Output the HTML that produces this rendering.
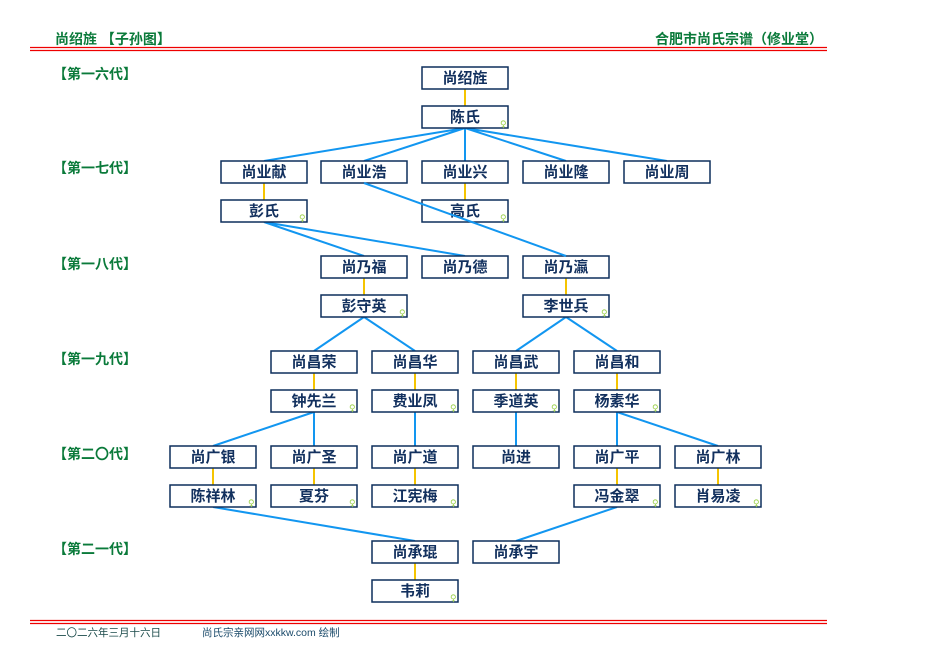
<!DOCTYPE html>
<html><head><meta charset="utf-8"><style>
body{margin:0;background:#fff}
svg{display:block}
.b{fill:#fff;stroke:#0d2f5c;stroke-width:1.5}
.t{font-family:"Liberation Sans","Noto Sans CJK SC",sans-serif;font-weight:bold;font-size:15px;fill:#12305e;text-anchor:middle}
.g{font-family:"Liberation Sans","Noto Sans CJK SC",sans-serif;font-weight:bold;font-size:14px;fill:#0a7a3a}
.f{font-family:"DejaVu Sans",sans-serif;font-size:9px;fill:#9bd04a}
.bl{stroke:#1296f0;stroke-width:2;fill:none}
.yl{stroke:#f5c400;stroke-width:2}
</style></head><body>
<svg width="926" height="670" viewBox="0 0 926 670">
<text class="g" x="55" y="44" font-size="16">尚绍旌 【子孙图】</text>
<text class="g" x="823" y="44" font-size="16" text-anchor="end">合肥市尚氏宗谱（修业堂）</text>
<line x1="30" y1="47.5" x2="827" y2="47.5" stroke="#e00" stroke-width="1.2"/>
<line x1="30" y1="50.5" x2="827" y2="50.5" stroke="#e00" stroke-width="1.2"/>
<line x1="30" y1="620.5" x2="827" y2="620.5" stroke="#e00" stroke-width="1.2"/>
<line x1="30" y1="623.5" x2="827" y2="623.5" stroke="#e00" stroke-width="1.2"/>
<text x="56" y="636" font-family="Liberation Sans,Noto Sans CJK SC,sans-serif" font-size="10.5" fill="#1a4a4a">二〇二六年三月十六日</text>
<text x="202" y="636" font-family="Liberation Sans,Noto Sans CJK SC,sans-serif" font-size="10.5" fill="#1a4a6a">尚氏宗亲网网xxkkw.com 绘制</text>
<text class="g" x="53" y="79">【第一六代】</text>
<text class="g" x="53" y="173">【第一七代】</text>
<text class="g" x="53" y="269">【第一八代】</text>
<text class="g" x="53" y="364">【第一九代】</text>
<text class="g" x="53" y="459">【第二〇代】</text>
<text class="g" x="53" y="554">【第二一代】</text>
<g class="bl">
<path d="M465 128 L264 161 M465 128 L364 161 M465 128 L465 161 M465 128 L566 161 M465 128 L667 161"/>
<path d="M264 222 L364 256 M264 222 L465 256"/>
<path d="M364 317 L314 351 M364 317 L415 351"/>
<path d="M566 317 L516 351 M566 317 L617 351"/>
<path d="M314 412 L213 446 M314 412 L314 446"/>
<path d="M415 412 L415 446"/>
<path d="M516 412 L516 446"/>
<path d="M617 412 L617 446 M617 412 L718 446"/>
<path d="M213 507 L415 541"/>
<path d="M617 507 L516 541"/>
</g>
<g class="yl">
<line x1="465" y1="89" x2="465" y2="106"/>
<line x1="264" y1="183" x2="264" y2="200"/>
<line x1="465" y1="183" x2="465" y2="200"/>
<line x1="364" y1="278" x2="364" y2="295"/>
<line x1="566" y1="278" x2="566" y2="295"/>
<line x1="314" y1="373" x2="314" y2="390"/>
<line x1="415" y1="373" x2="415" y2="390"/>
<line x1="516" y1="373" x2="516" y2="390"/>
<line x1="617" y1="373" x2="617" y2="390"/>
<line x1="213" y1="468" x2="213" y2="485"/>
<line x1="314" y1="468" x2="314" y2="485"/>
<line x1="415" y1="468" x2="415" y2="485"/>
<line x1="617" y1="468" x2="617" y2="485"/>
<line x1="718" y1="468" x2="718" y2="485"/>
<line x1="415" y1="563" x2="415" y2="580"/>
</g>
<g>
<rect class="b" x="422" y="67" width="86" height="22"/><text class="t" x="465" y="83">尚绍旌</text>
<rect class="b" x="422" y="106" width="86" height="22"/><text class="t" x="465" y="122">陈氏</text><text class="f" x="500" y="127">♀</text>
<rect class="b" x="221" y="161" width="86" height="22"/><text class="t" x="264" y="177">尚业献</text>
<rect class="b" x="321" y="161" width="86" height="22"/><text class="t" x="364" y="177">尚业浩</text>
<rect class="b" x="422" y="161" width="86" height="22"/><text class="t" x="465" y="177">尚业兴</text>
<rect class="b" x="523" y="161" width="86" height="22"/><text class="t" x="566" y="177">尚业隆</text>
<rect class="b" x="624" y="161" width="86" height="22"/><text class="t" x="667" y="177">尚业周</text>
<rect class="b" x="221" y="200" width="86" height="22"/><text class="t" x="264" y="216">彭氏</text><text class="f" x="299" y="221">♀</text>
<rect class="b" x="422" y="200" width="86" height="22"/><text class="t" x="465" y="216">高氏</text><text class="f" x="500" y="221">♀</text>
<rect class="b" x="321" y="256" width="86" height="22"/><text class="t" x="364" y="272">尚乃福</text>
<rect class="b" x="422" y="256" width="86" height="22"/><text class="t" x="465" y="272">尚乃德</text>
<rect class="b" x="523" y="256" width="86" height="22"/><text class="t" x="566" y="272">尚乃瀛</text>
<rect class="b" x="321" y="295" width="86" height="22"/><text class="t" x="364" y="311">彭守英</text><text class="f" x="399" y="316">♀</text>
<rect class="b" x="523" y="295" width="86" height="22"/><text class="t" x="566" y="311">李世兵</text><text class="f" x="601" y="316">♀</text>
<rect class="b" x="271" y="351" width="86" height="22"/><text class="t" x="314" y="367">尚昌荣</text>
<rect class="b" x="372" y="351" width="86" height="22"/><text class="t" x="415" y="367">尚昌华</text>
<rect class="b" x="473" y="351" width="86" height="22"/><text class="t" x="516" y="367">尚昌武</text>
<rect class="b" x="574" y="351" width="86" height="22"/><text class="t" x="617" y="367">尚昌和</text>
<rect class="b" x="271" y="390" width="86" height="22"/><text class="t" x="314" y="406">钟先兰</text><text class="f" x="349" y="411">♀</text>
<rect class="b" x="372" y="390" width="86" height="22"/><text class="t" x="415" y="406">费业凤</text><text class="f" x="450" y="411">♀</text>
<rect class="b" x="473" y="390" width="86" height="22"/><text class="t" x="516" y="406">季道英</text><text class="f" x="551" y="411">♀</text>
<rect class="b" x="574" y="390" width="86" height="22"/><text class="t" x="617" y="406">杨素华</text><text class="f" x="652" y="411">♀</text>
<rect class="b" x="170" y="446" width="86" height="22"/><text class="t" x="213" y="462">尚广银</text>
<rect class="b" x="271" y="446" width="86" height="22"/><text class="t" x="314" y="462">尚广圣</text>
<rect class="b" x="372" y="446" width="86" height="22"/><text class="t" x="415" y="462">尚广道</text>
<rect class="b" x="473" y="446" width="86" height="22"/><text class="t" x="516" y="462">尚进</text>
<rect class="b" x="574" y="446" width="86" height="22"/><text class="t" x="617" y="462">尚广平</text>
<rect class="b" x="675" y="446" width="86" height="22"/><text class="t" x="718" y="462">尚广林</text>
<rect class="b" x="170" y="485" width="86" height="22"/><text class="t" x="213" y="501">陈祥林</text><text class="f" x="248" y="506">♀</text>
<rect class="b" x="271" y="485" width="86" height="22"/><text class="t" x="314" y="501">夏芬</text><text class="f" x="349" y="506">♀</text>
<rect class="b" x="372" y="485" width="86" height="22"/><text class="t" x="415" y="501">江宪梅</text><text class="f" x="450" y="506">♀</text>
<rect class="b" x="574" y="485" width="86" height="22"/><text class="t" x="617" y="501">冯金翠</text><text class="f" x="652" y="506">♀</text>
<rect class="b" x="675" y="485" width="86" height="22"/><text class="t" x="718" y="501">肖易凌</text><text class="f" x="753" y="506">♀</text>
<rect class="b" x="372" y="541" width="86" height="22"/><text class="t" x="415" y="557">尚承琨</text>
<rect class="b" x="473" y="541" width="86" height="22"/><text class="t" x="516" y="557">尚承宇</text>
<rect class="b" x="372" y="580" width="86" height="22"/><text class="t" x="415" y="596">韦莉</text><text class="f" x="450" y="601">♀</text>
</g>
<path class="bl" d="M364 183 L566 256"/>
</svg>
</body></html>
